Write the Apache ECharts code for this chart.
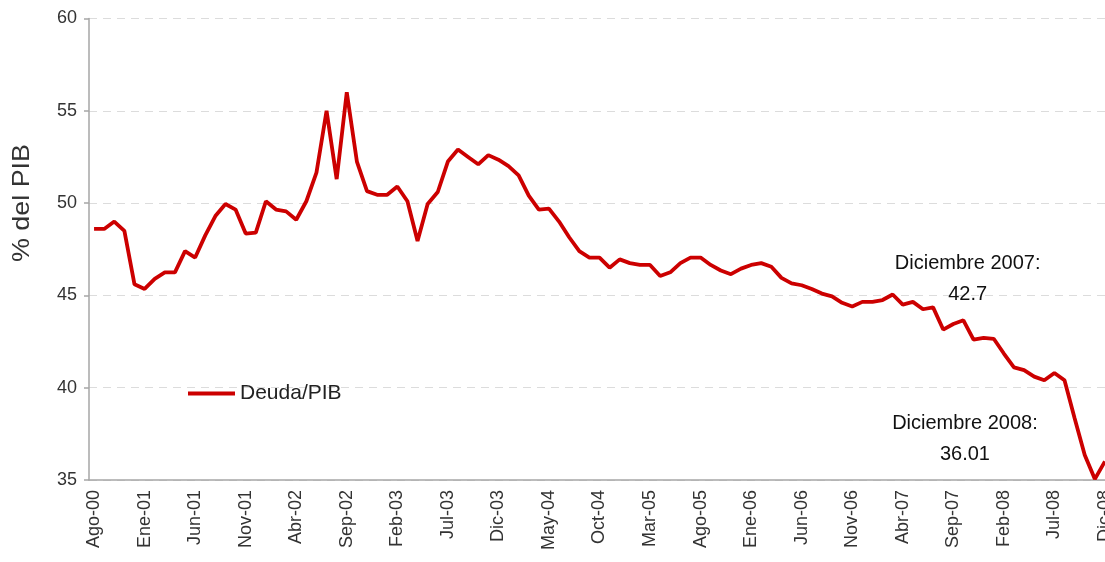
<!DOCTYPE html>
<html>
<head>
<meta charset="utf-8">
<script src="https://cdn.jsdelivr.net/npm/echarts@6/dist/echarts.min.js"></script>
<style>
  html, body { margin: 0; padding: 0; background: #fff; }
  #chart { width: 1105px; height: 562px; }
</style>
</head>
<body>
<div id="chart"></div>
<script>
// meses Ago-00 .. Dic-08
const monthNames = ['Ene', 'Feb', 'Mar', 'Abr', 'May', 'Jun', 'Jul', 'Ago', 'Sep', 'Oct', 'Nov', 'Dic']
const years = ['00', '01', '02', '03', '04', '05', '06', '07', '08']
const categories = []
years.forEach((yy, yi) => {
  monthNames.forEach((m, mi) => {
    if (yi === 0 && mi < 7) return
    categories.push(m + '-' + yy)
  })
})

// Deuda/PIB (% del PIB)
const deuda = [
  48.6, 48.6, 49.0, 48.5, 45.6, 45.35, 45.9, 46.25, 46.25, 47.4,
  47.05, 48.25, 49.3, 49.95, 49.65, 48.35, 48.4, 50.1, 49.65, 49.55,
  49.1, 50.1, 51.65, 55.0, 51.3, 56.0, 52.25, 50.65, 50.45, 50.45,
  50.9, 50.1, 47.95, 49.95, 50.6, 52.25, 52.9, 52.5, 52.1, 52.6,
  52.35, 52.0, 51.5, 50.4, 49.65, 49.7, 49.0, 48.15, 47.4, 47.05,
  47.05, 46.5, 46.95, 46.75, 46.65, 46.65, 46.05, 46.25, 46.75, 47.05,
  47.05, 46.65, 46.35, 46.15, 46.45, 46.65, 46.75, 46.55, 45.95, 45.65,
  45.55, 45.35, 45.1, 44.95, 44.6, 44.4, 44.65, 44.65, 44.75, 45.05,
  44.5, 44.65, 44.25, 44.35, 43.15, 43.45, 43.65, 42.6, 42.7, 42.65,
  41.85, 41.1, 40.95, 40.6, 40.4, 40.8, 40.4, 38.35, 36.35, 35.05,
  36.01
]

const yTicks = [35, 40, 45, 50, 55, 60]

const font = 'Liberation Sans, Arial, sans-serif'
const chart = echarts.init(document.getElementById('chart'))

chart.setOption({
  animation: false,
  textStyle: {fontFamily: font},
  grid: {
    left: 89,
    right: -5,
    top: 18.5,
    bottom: 82,
    outerBoundsMode: 'none'
  },
  legend: {
    left: 183,
    top: 378,
    icon: 'rect',
    itemWidth: 47,
    itemHeight: 4,
    itemGap: 6,
    textStyle: {fontSize: 21, color: '#222', fontFamily: font},
    data: ['Deuda/PIB']
  },
  // titulo del eje Y (algo estirado como en el original)
  graphic: [
    {
      type: 'text',
      x: 22,
      y: 203,
      rotation: Math.PI / 2,
      scaleX: 1.12,
      style: {
        text: '% del PIB',
        font: '24px ' + font,
        fill: '#333',
        align: 'center',
        verticalAlign: 'middle'
      }
    }
  ],
  xAxis: {
    type: 'category',
    data: categories,
    boundaryGap: true,
    axisLine: {lineStyle: {color: '#a6a6a6', width: 1.5}},
    axisTick: {
      interval: 4,
      length: 5,
      lineStyle: {color: '#a6a6a6', width: 1.5}
    },
    axisLabel: {
      interval: 4,
      rotate: 90,
      margin: 10,
      fontSize: 18,
      color: '#333',
      fontFamily: font
    }
  },
  yAxis: {
    type: 'value',
    min: yTicks[0],
    max: yTicks[yTicks.length - 1],
    interval: 5,
    axisLine: {show: true, lineStyle: {color: '#a6a6a6', width: 1.5}},
    axisTick: {show: true, length: 5, lineStyle: {color: '#a6a6a6', width: 1.5}},
    axisLabel: {fontSize: 18, color: '#333', margin: 12, fontFamily: font},
    splitLine: {lineStyle: {color: '#dcdcdc', type: [8, 6], width: 1}}
  },
  series: [
    {
      name: 'Deuda/PIB',
      type: 'line',
      data: deuda,
      symbol: 'none',
      lineStyle: {color: '#cc0000', width: 3.8},
      itemStyle: {color: '#cc0000'},
      markPoint: {
        symbol: 'circle',
        symbolSize: 0,
        label: {
          show: true,
          fontSize: 20,
          lineHeight: 31,
          color: '#111',
          align: 'center',
          fontFamily: font
        },
        data: [
          {
            coord: [categories[88], deuda[88]],
            label: {formatter: 'Diciembre 2007:\n42.7', offset: [-16, -59]}
          },
          {
            coord: [categories[100], deuda[100]],
            label: {formatter: 'Diciembre 2008:\n36.01', offset: [-140, -22]}
          }
        ]
      }
    }
  ]
})
</script>
</body>
</html>
